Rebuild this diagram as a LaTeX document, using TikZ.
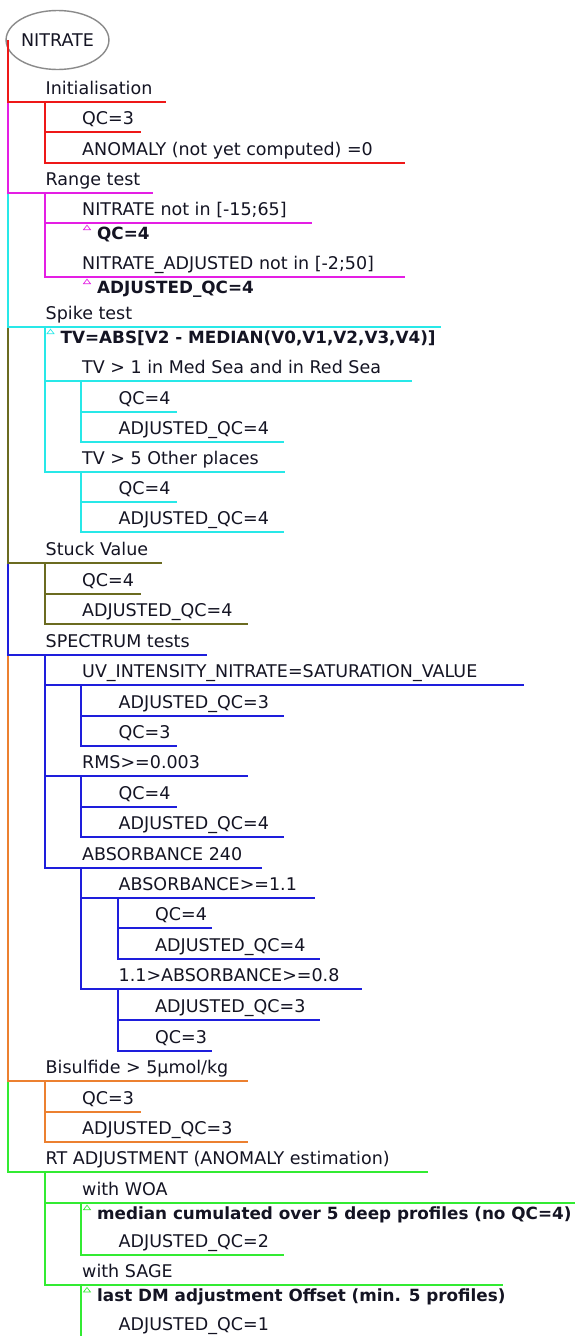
\documentclass[tikz,border=0pt]{standalone}
\usepackage{fontspec}
\setmainfont{DejaVu Sans}
\usetikzlibrary{shapes.geometric,calc}
\definecolor{txt}{RGB}{20,20,35}
\definecolor{cR}{RGB}{238,24,24}
\definecolor{cM}{RGB}{228,30,228}
\definecolor{cC}{RGB}{40,232,232}
\definecolor{cO}{RGB}{107,107,32}
\definecolor{cB}{RGB}{30,30,220}
\definecolor{cN}{RGB}{236,128,48}
\definecolor{cG}{RGB}{50,235,50}
\definecolor{ell}{RGB}{138,138,138}
% #1 name, #2 x of underline start, #3 y of underline, #4 x of underline end, #5 text
\newcommand\MMnode[5]{%
  \coordinate (#1-s) at (#2,#3);
  \coordinate (#1-e) at (#4,#3);
  \coordinate (#1-f) at (#2+36.5,#3);
  \node[lbl] (#1) at (#2+37.5,#3-7.4) {#5};}
% #1 name, #2 parent, #3 colour, #4 text
\newcommand\MMdetail[4]{%
  \draw[#3, line width=0.7pt] ($(#2-f)+(2.5,7)$) -- ++(7,0) -- ++(-3.5,-4.5) -- cycle;
  \node[dtl] (#1) at ($(#2-f)+(16,16.5)$) {#4};}
% #1 colour, #2 parent, #3 child
\newcommand\MMedge[3]{\draw[conn,#1] (#2-f) |- (#3-s) -- (#3-e);}
\begin{document}
\begin{tikzpicture}[x=1pt,y=-1pt,
  lbl/.style={anchor=base west, inner sep=0pt, text=txt, font=\fontsize{17.5}{21}\selectfont},
  dtl/.style={anchor=base west, inner sep=0pt, text=txt, font=\fontsize{16.8}{20}\selectfont\bfseries},
  conn/.style={line width=2pt}]
\useasboundingbox (0,0) rectangle (574,1336);
\fill[white] (0,0) rectangle (574,1336);

\node[ellipse, draw=ell, line width=1.4pt, minimum width=99pt, minimum height=59pt, inner sep=0pt,
  text=txt, font=\fontsize{17.5}{21}\selectfont] (root) at (57.5,40) {NITRATE};
\coordinate (root-f) at (8,40);

% level 1
\MMnode{init}{8}{101.7}{165.7}{Initialisation}
\MMnode{range}{8}{193.3}{153.3}{Range test}
\MMnode{spike}{8}{326.7}{440.5}{Spike test}
\MMnode{stuck}{8}{563.3}{162}{Stuck Value}
\MMnode{spec}{8}{655}{207}{SPECTRUM tests}
\MMnode{bisul}{8}{1080.7}{248.3}{Bisulfide > 5µmol/kg}
\MMnode{rt}{8}{1172.3}{427.7}{RT ADJUSTMENT (ANOMALY estimation)}

% Initialisation
\MMnode{iA}{44.5}{132.3}{140.7}{QC=3}
\MMnode{iB}{44.5}{162.7}{405}{ANOMALY (not yet computed) =0}
% Range test
\MMnode{rA}{44.5}{222.7}{311.7}{NITRATE not in [-15;65]}
\MMdetail{rAd}{rA}{cM}{QC=4}
\MMnode{rB}{44.5}{276.7}{405}{NITRATE\_ADJUSTED not in [-2;50]}
\MMdetail{rBd}{rB}{cM}{ADJUSTED\_QC=4}
% Spike test
\MMdetail{sd}{spike}{cC}{TV=ABS[V2 - MEDIAN(V0,V1,V2,V3,V4)]}
\MMnode{sA}{44.5}{381}{411.7}{TV > 1 in Med Sea and in Red Sea}
\MMnode{sA1}{81}{412}{176.5}{QC=4}
\MMnode{sA2}{81}{442.3}{284.4}{ADJUSTED\_QC=4}
\MMnode{sB}{44.5}{472.3}{285}{TV > 5 Other places}
\MMnode{sB1}{81}{502.3}{176.5}{QC=4}
\MMnode{sB2}{81}{532.3}{284.4}{ADJUSTED\_QC=4}
% Stuck value
\MMnode{tA}{44.5}{594.3}{141}{QC=4}
\MMnode{tB}{44.5}{624.3}{248.3}{ADJUSTED\_QC=4}
% Spectrum
\MMnode{pA}{44.5}{685}{523.5}{UV\_INTENSITY\_NITRATE=SATURATION\_VALUE}
\MMnode{pA1}{81}{716}{284.4}{ADJUSTED\_QC=3}
\MMnode{pA2}{81}{746}{176.5}{QC=3}
\MMnode{pB}{44.5}{776}{248.3}{RMS>=0.003}
\MMnode{pB1}{81}{806.7}{176.5}{QC=4}
\MMnode{pB2}{81}{837.3}{284.4}{ADJUSTED\_QC=4}
\MMnode{pC}{44.5}{867.7}{261.7}{ABSORBANCE 240}
\MMnode{pC1}{81}{897.7}{315}{ABSORBANCE>=1.1}
\MMnode{pC1a}{117.5}{928.3}{212.3}{QC=4}
\MMnode{pC1b}{117.5}{959}{320}{ADJUSTED\_QC=4}
\MMnode{pC2}{81}{989}{361.7}{1.1>ABSORBANCE>=0.8}
\MMnode{pC2a}{117.5}{1020}{320}{ADJUSTED\_QC=3}
\MMnode{pC2b}{117.5}{1050.7}{212.3}{QC=3}
% Bisulfide
\MMnode{bA}{44.5}{1111.7}{140.7}{QC=3}
\MMnode{bB}{44.5}{1142.3}{248.3}{ADJUSTED\_QC=3}
% RT adjustment
\MMnode{gA}{44.5}{1202.7}{580}{with WOA}
\MMdetail{gAd}{gA}{cG}{median cumulated over 5 deep profiles (no QC=4)}
\MMnode{gA1}{81}{1255}{284.4}{ADJUSTED\_QC=2}
\MMnode{gB}{44.5}{1285}{503}{with SAGE}
\MMdetail{gBd}{gB}{cG}{last DM adjustment Offset (min. 5 profiles)}
\MMnode{gB1}{81}{1337.5}{284.4}{ADJUSTED\_QC=1}

% connectors, level 1 (drawn last-first so the earlier colour shows)
\MMedge{cG}{root}{rt}
\MMedge{cN}{root}{bisul}
\MMedge{cB}{root}{spec}
\MMedge{cO}{root}{stuck}
\MMedge{cC}{root}{spike}
\MMedge{cM}{root}{range}
\MMedge{cR}{root}{init}

% subtrees
\MMedge{cR}{init}{iB}
\MMedge{cR}{init}{iA}
\MMedge{cM}{range}{rB}
\MMedge{cM}{range}{rA}
\MMedge{cC}{spike}{sB}
\MMedge{cC}{spike}{sA}
\MMedge{cC}{sA}{sA2}
\MMedge{cC}{sA}{sA1}
\MMedge{cC}{sB}{sB2}
\MMedge{cC}{sB}{sB1}
\MMedge{cO}{stuck}{tB}
\MMedge{cO}{stuck}{tA}
\MMedge{cB}{spec}{pC}
\MMedge{cB}{spec}{pB}
\MMedge{cB}{spec}{pA}
\MMedge{cB}{pA}{pA2}
\MMedge{cB}{pA}{pA1}
\MMedge{cB}{pB}{pB2}
\MMedge{cB}{pB}{pB1}
\MMedge{cB}{pC}{pC2}
\MMedge{cB}{pC}{pC1}
\MMedge{cB}{pC1}{pC1b}
\MMedge{cB}{pC1}{pC1a}
\MMedge{cB}{pC2}{pC2b}
\MMedge{cB}{pC2}{pC2a}
\MMedge{cN}{bisul}{bB}
\MMedge{cN}{bisul}{bA}
\MMedge{cG}{rt}{gB}
\MMedge{cG}{rt}{gA}
\MMedge{cG}{gA}{gA1}
\MMedge{cG}{gB}{gB1}
\end{tikzpicture}
\end{document}
